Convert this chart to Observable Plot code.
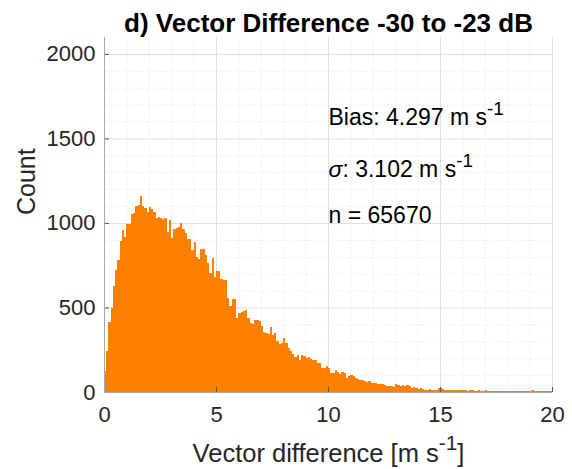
<!DOCTYPE html>
<html><head><meta charset="utf-8">
<script src="https://cdn.jsdelivr.net/npm/d3@7"></script>
<script src="https://cdn.jsdelivr.net/npm/@observablehq/plot@0.6"></script>
<style>html,body{margin:0;padding:0;background:#fff;}</style>
</head><body><div id="chart"></div>
<script>
// ---- data ----
const titleText = "d) Vector Difference -30 to -23 dB";
const xLabel = "Vector difference [m s^{-1}]";
const yLabel = "Count";
const xTicks = [0, 5, 10, 15, 20];
const yTicks = [0, 500, 1000, 1500, 2000];
const xMinor = [1,2,3,4,6,7,8,9,11,12,13,14,16,17,18,19];
const yMinor = [100,200,300,400,600,700,800,900,1100,1200,1300,1400,1600,1700,1800,1900];
const binStart = 0;
const binWidth = 0.1;
// counts per 0.1 m/s bin, 0 .. 20
const counts = [
  125, 245, 412, 495, 628, 723, 782, 892, 956, 915,
  992, 996, 1053, 1058, 1100, 1108, 1158, 1100, 1090, 1062,
  1094, 1080, 1062, 1030, 1035, 1032, 1022, 1028, 945, 1020,
  912, 962, 972, 975, 998, 965, 940, 905, 905, 840,
  890, 800, 785, 845, 843, 810, 762, 705, 795, 678,
  718, 715, 668, 663, 660, 555, 510, 553, 553, 436,
  470, 475, 478, 483, 436, 410, 405, 425, 428, 420,
  390, 357, 348, 345, 383, 340, 350, 300, 285, 290,
  318, 290, 258, 240, 226, 205, 219, 190, 220, 212,
  200, 210, 193, 189, 188, 174, 170, 142, 140, 154,
  140, 112, 110, 130, 120, 108, 118, 112, 82, 92,
  100, 92, 85, 76, 71, 72, 68, 61, 64, 55,
  51, 54, 46, 45, 50, 40, 38, 35, 38, 32,
  47, 40, 36, 39, 33, 41, 35, 26, 27, 26,
  20, 22, 16, 14, 12, 15, 10, 12, 14, 22,
  21, 16, 12, 14, 10, 12, 14, 11, 9, 10,
  12, 9, 8, 10, 9, 7, 8, 10, 6, 7,
  9, 6, 6, 8, 5, 6, 7, 5, 4, 6,
  5, 8, 4, 5, 6, 3, 5, 7, 4, 5,
  6, 10, 5, 4, 6, 3, 5, 4, 6, 5
];
const statLabels = ["Bias: 4.297 m s^{-1}", "σ: 3.102 m s^{-1}", "n = 65670"];
const statX = 10;
const statY = [1580, 1272, 1000];

// ---- build ----
const bins = counts.map((c, i) => ({x1: binStart + i * binWidth, x2: binStart + (i + 1) * binWidth, count: c}));
const FONT = "'Liberation Sans', Arial, Helvetica, sans-serif";
const ORANGE = "#ff8000";
const W = 572, H = 469, ML = 104, MR = 20, MT = 37, MB = 77;
const plotW = W - ML - MR, plotH = H - MT - MB;

const chart = Plot.plot({
  width: W, height: H,
  marginLeft: ML, marginRight: MR, marginTop: MT, marginBottom: MB,
  style: {fontFamily: FONT, fontSize: "22px", color: "#262626", background: "#fff", overflow: "visible"},
  x: {domain: [0, 20]},
  y: {domain: [0, 2100]},
  marks: [
    Plot.ruleX(xMinor, {x: d => d, stroke: "#ebebeb", strokeDasharray: "1.5,2"}),
    Plot.ruleY(yMinor, {y: d => d, stroke: "#ebebeb", strokeDasharray: "1.5,2"}),
    Plot.ruleX(xTicks, {x: d => d, stroke: "#e0e0e0"}),
    Plot.ruleY(yTicks, {y: d => d, stroke: "#e0e0e0"}),
    Plot.rectY(bins, {x1: "x1", x2: "x2", y: "count", fill: ORANGE, inset: 0, shapeRendering: "crispEdges"}),
    Plot.tickY(yTicks, {y: d => d, stroke: "#555", insetRight: plotW - 5}),
    Plot.tickX(xTicks, {x: d => d, stroke: "#555", insetTop: plotH - 5}),
    Plot.ruleX([0], {stroke: "#a8a8a8"}),
    Plot.ruleY([0], {stroke: "#a8a8a8"}),
    Plot.axisX({ticks: xTicks, tickSize: 0, tickPadding: 14, fontSize: 22, tickFormat: d => String(d), label: null}),
    Plot.axisY({ticks: yTicks, tickSize: 0, tickPadding: 9, fontSize: 22, tickFormat: d => String(d), label: null}),
    Plot.text(statLabels, {x: () => statX, y: (d, i) => statY[i], text: d => d, textAnchor: "start", lineAnchor: "bottom", fontSize: 23, fill: "#000"}),
    Plot.text([titleText], {text: d => d, frameAnchor: "top", dy: -6, lineAnchor: "bottom", fontSize: 26, fontWeight: "bold", fill: "#000"}),
    Plot.text([xLabel], {text: d => d, frameAnchor: "bottom", dy: 69, lineAnchor: "bottom", fontSize: 25.5, fill: "#262626"}),
    Plot.text([yLabel], {text: d => d, frameAnchor: "left", dx: -70, rotate: -90, lineAnchor: "bottom", fontSize: 25, fill: "#262626"})
  ]
});
document.getElementById("chart").append(chart);

// superscripts / italic sigma in text
function richify(el) {
  if (el.children.length) return;
  const s = el.textContent;
  if (!/\^\{|σ/.test(s)) return;
  const fs = parseFloat(getComputedStyle(el).fontSize);
  const parts = s.split(/(\^\{[^}]*\}|σ)/).filter(p => p !== "");
  el.textContent = "";
  let raised = 0;
  for (const p of parts) {
    const t = document.createElementNS("http://www.w3.org/2000/svg", "tspan");
    if (p.startsWith("^{")) {
      t.textContent = p.slice(2, -1);
      t.setAttribute("font-size", (fs * 0.82).toFixed(1));
      t.setAttribute("dy", (-fs * 0.45).toFixed(1));
      raised = fs * 0.45;
    } else {
      t.textContent = p;
      if (raised) { t.setAttribute("dy", raised.toFixed(1)); raised = 0; }
      if (p === "σ") t.setAttribute("font-style", "italic");
    }
    el.append(t);
  }
}
chart.querySelectorAll("text, tspan").forEach(richify);
</script>
</body></html>
